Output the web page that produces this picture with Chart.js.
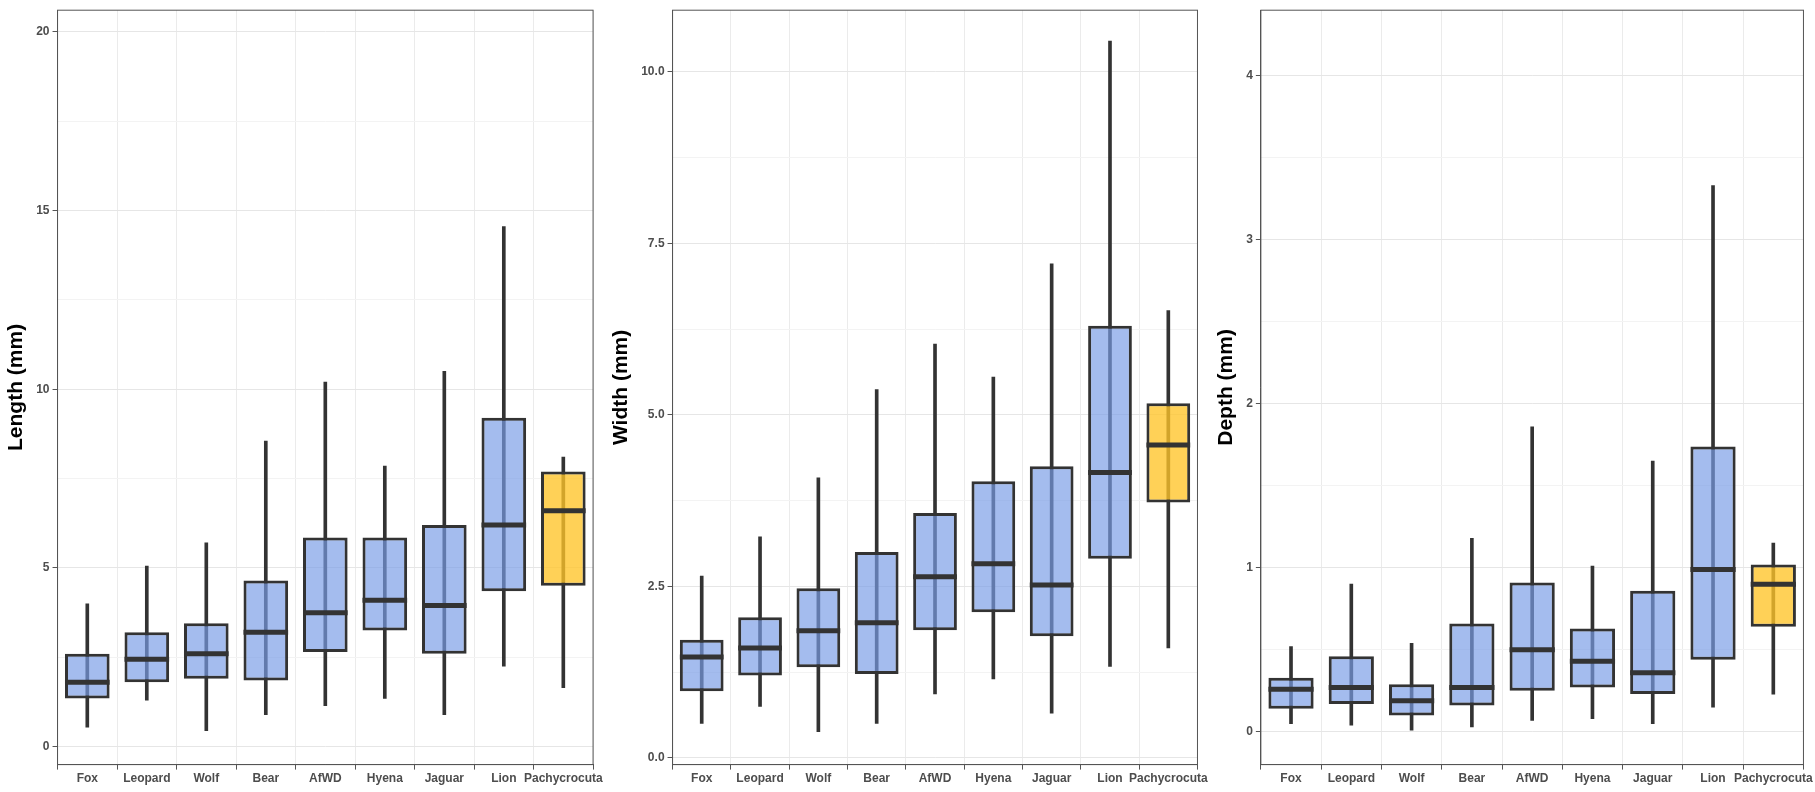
<!DOCTYPE html>
<html lang="en">
<head>
<meta charset="UTF-8">
<title>Boxplots</title>
<script src="https://cdn.jsdelivr.net/npm/chart.js"></script>
<style>
  body { margin: 0; background: #fff; font-family: 'Liberation Sans', Arial, sans-serif; }
  #wrap { display: flex; width: 1815px; height: 792px; }
  .panel { width: 605px; height: 792px; position: relative; }
</style>
</head>
<body>
<div id="wrap">
  <div class="panel"><canvas id="c1"></canvas></div>
  <div class="panel"><canvas id="c2"></canvas></div>
  <div class="panel"><canvas id="c3"></canvas></div>
</div>
<script>
const taxa = ['Fox', 'Leopard', 'Wolf', 'Bear', 'AfWD', 'Hyena', 'Jaguar', 'Lion', 'Pachycrocuta'];

// [min, q1, median, q3, max] per taxon
const lengthStats = [
  [0.55, 1.35, 1.8, 2.6, 4.0], [1.3, 1.8, 2.45, 3.2, 5.05], [0.45, 1.9, 2.6, 3.45, 5.7],
  [0.9, 1.85, 3.2, 4.65, 8.55], [1.15, 2.65, 3.75, 5.85, 10.2], [1.35, 3.25, 4.1, 5.85, 7.85],
  [0.9, 2.6, 3.95, 6.2, 10.5], [2.25, 4.35, 6.2, 9.2, 14.55], [1.65, 4.5, 6.6, 7.7, 8.1]
];
const widthStats = [
  [0.5, 0.97, 1.47, 1.72, 2.65], [0.75, 1.2, 1.6, 2.05, 3.22], [0.38, 1.32, 1.85, 2.47, 4.08],
  [0.5, 1.22, 1.97, 3.0, 5.37], [0.93, 1.86, 2.64, 3.57, 6.03], [1.15, 2.12, 2.83, 4.03, 5.55],
  [0.65, 1.77, 2.52, 4.25, 7.2], [1.33, 2.9, 4.16, 6.3, 10.45], [1.6, 3.72, 4.56, 5.17, 6.52]
];
const depthStats = [
  [0.05, 0.14, 0.26, 0.33, 0.52], [0.04, 0.17, 0.27, 0.46, 0.9], [0.01, 0.1, 0.19, 0.29, 0.54],
  [0.03, 0.16, 0.27, 0.66, 1.18], [0.07, 0.25, 0.5, 0.91, 1.86], [0.08, 0.27, 0.43, 0.63, 1.01],
  [0.05, 0.23, 0.36, 0.86, 1.65], [0.15, 0.44, 0.99, 1.74, 3.33], [0.23, 0.64, 0.9, 1.02, 1.15]
];

const lengthTicks = [0, 5, 10, 15, 20];
const widthTicks = [0, 2.5, 5, 7.5, 10];
const depthTicks = [0, 1, 2, 3, 4];

const blue = 'rgba(121,156,230,0.68)';
const gold = 'rgba(255,196,40,0.78)';
const dark = '#333333';

const medianPlugin = {
  id: 'medians',
  afterDatasetsDraw(chart) {
    const stats = chart.options.plugins.medians.stats;
    const meta = chart.getDatasetMeta(1);
    const y = chart.scales.y;
    const ctx = chart.ctx;
    ctx.save();
    ctx.strokeStyle = dark;
    ctx.lineWidth = 5;
    meta.data.forEach((bar, i) => {
      const py = y.getPixelForValue(stats[i][2]);
      ctx.beginPath();
      ctx.moveTo(bar.x - bar.width / 2, py);
      ctx.lineTo(bar.x + bar.width / 2, py);
      ctx.stroke();
    });
    ctx.restore();
  }
};

const framePlugin = {
  id: 'frame',
  afterDraw(chart) {
    const a = chart.chartArea;
    const ctx = chart.ctx;
    ctx.save();
    ctx.strokeStyle = '#555555';
    ctx.lineWidth = 1;
    ctx.strokeRect(a.left, a.top, a.right - a.left, a.bottom - a.top);
    ctx.restore();
  }
};

function makeChart(id, stats, ticks, min, max, title) {
  const step = ticks[1] - ticks[0];
  new Chart(document.getElementById(id), {
    type: 'bar',
    data: {
      labels: taxa,
      datasets: [
        {
          data: stats.map(s => [s[0], s[4]]),
          backgroundColor: dark,
          barThickness: 3,
          grouped: false,
          order: 2
        },
        {
          data: stats.map(s => [s[1], s[3]]),
          backgroundColor: taxa.map(t => t === 'Pachycrocuta' ? gold : blue),
          borderColor: dark,
          borderWidth: 3,
          borderSkipped: false,
          barPercentage: 0.75,
          categoryPercentage: 1,
          grouped: false,
          order: 1
        }
      ]
    },
    options: {
      responsive: true,
      maintainAspectRatio: false,
      animation: false,
      layout: { padding: { top: 7, right: 6, bottom: 4 } },
      plugins: {
        legend: { display: false },
        tooltip: { enabled: false },
        medians: { stats: stats }
      },
      scales: {
        x: {
          grid: { color: '#ebebeb', drawTicks: true, tickLength: 5, tickColor: '#555' },
          border: { color: '#555' },
          ticks: { color: '#4d4d4d', font: { family: 'Liberation Sans', weight: 'bold', size: 12 }, maxRotation: 0, autoSkip: false, padding: 2 }
        },
        y: {
          min: min, max: max,
          afterBuildTicks(axis) {
            const out = [];
            for (let v = ticks[0] - step / 2; v <= max; v += step / 2) {
              if (v >= min) out.push({ value: Math.round(v * 1000) / 1000 });
            }
            axis.ticks = out;
          },
          grid: {
            color: c => ticks.includes(c.tick.value) ? '#e6e6e6' : '#f3f3f3',
            tickLength: 5,
            tickColor: c => ticks.includes(c.tick.value) ? '#555' : 'rgba(0,0,0,0)'
          },
          border: { color: '#555' },
          ticks: {
            color: '#4d4d4d',
            font: { family: 'Liberation Sans', weight: 'bold', size: 12 },
            callback: v => ticks.includes(v) ? (step % 1 === 0 && id !== 'c2' ? String(v) : v.toFixed(1)) : ''
          },
          title: { display: true, text: title, color: '#000', font: { family: 'Liberation Sans', weight: 'bold', size: 21 } }
        }
      }
    },
    plugins: [medianPlugin, framePlugin]
  });
}

makeChart('c1', lengthStats, lengthTicks, -0.5, 20.6, 'Length (mm)');
makeChart('c2', widthStats, widthTicks, -0.1, 10.9, 'Width (mm)');
makeChart('c3', depthStats, depthTicks, -0.2, 4.4, 'Depth (mm)');
</script>
</body>
</html>
